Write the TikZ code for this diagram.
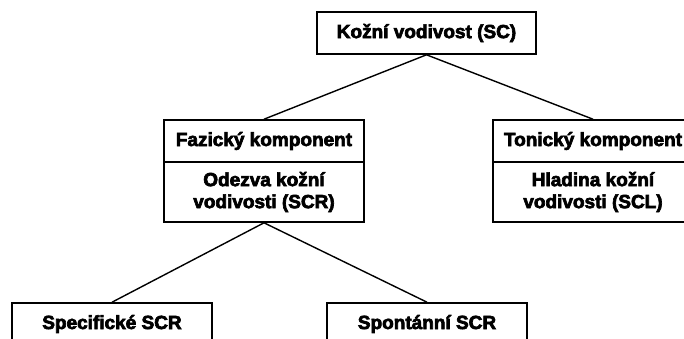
\documentclass[tikz,border=0pt]{standalone}
\usepackage{fontspec}
\newfontfamily\boxfont[FakeBold=3.5]{Liberation Sans Bold}
\begin{document}
\begin{tikzpicture}[x=1pt,y=-1pt,
  box/.style={draw=black, line width=1.6pt, fill=white, inner sep=0pt,
    minimum width=200pt, align=center,
    font=\boxfont\fontsize{19}{22}\selectfont},
  link/.style={draw=black, line width=1.4pt}]
  \useasboundingbox (0,0) rectangle (684,338);
  \clip (0,0) rectangle (684,338);
  \fill[white] (0,0) rectangle (684,338);

  % root
  \node[box, minimum width=219pt, minimum height=42pt] (root) at (426.5,33) {Kožní vodivost (SC)};

  % phasic component
  \node[box, minimum height=42pt] (fazH) at (264,141) {Fazický komponent};
  \node[box, minimum height=60pt] (fazB) at (264,192) {Odezva kožní\\vodivosti (SCR)};

  % tonic component
  \node[box, minimum height=42pt] (tonH) at (593,141) {Tonický komponent};
  \node[box, minimum height=60pt] (tonB) at (593,192) {Hladina kožní\\vodivosti (SCL)};

  % leaves
  \node[box, minimum height=42pt] (spec) at (112,324) {Specifické SCR};
  \node[box, minimum height=42pt] (spont) at (427,324) {Spontánní SCR};

  \draw[link] (root.south) -- (fazH.north);
  \draw[link] (root.south) -- (tonH.north);
  \draw[link] (fazB.south) -- (spec.north);
  \draw[link] (fazB.south) -- (spont.north);
\end{tikzpicture}
\end{document}
